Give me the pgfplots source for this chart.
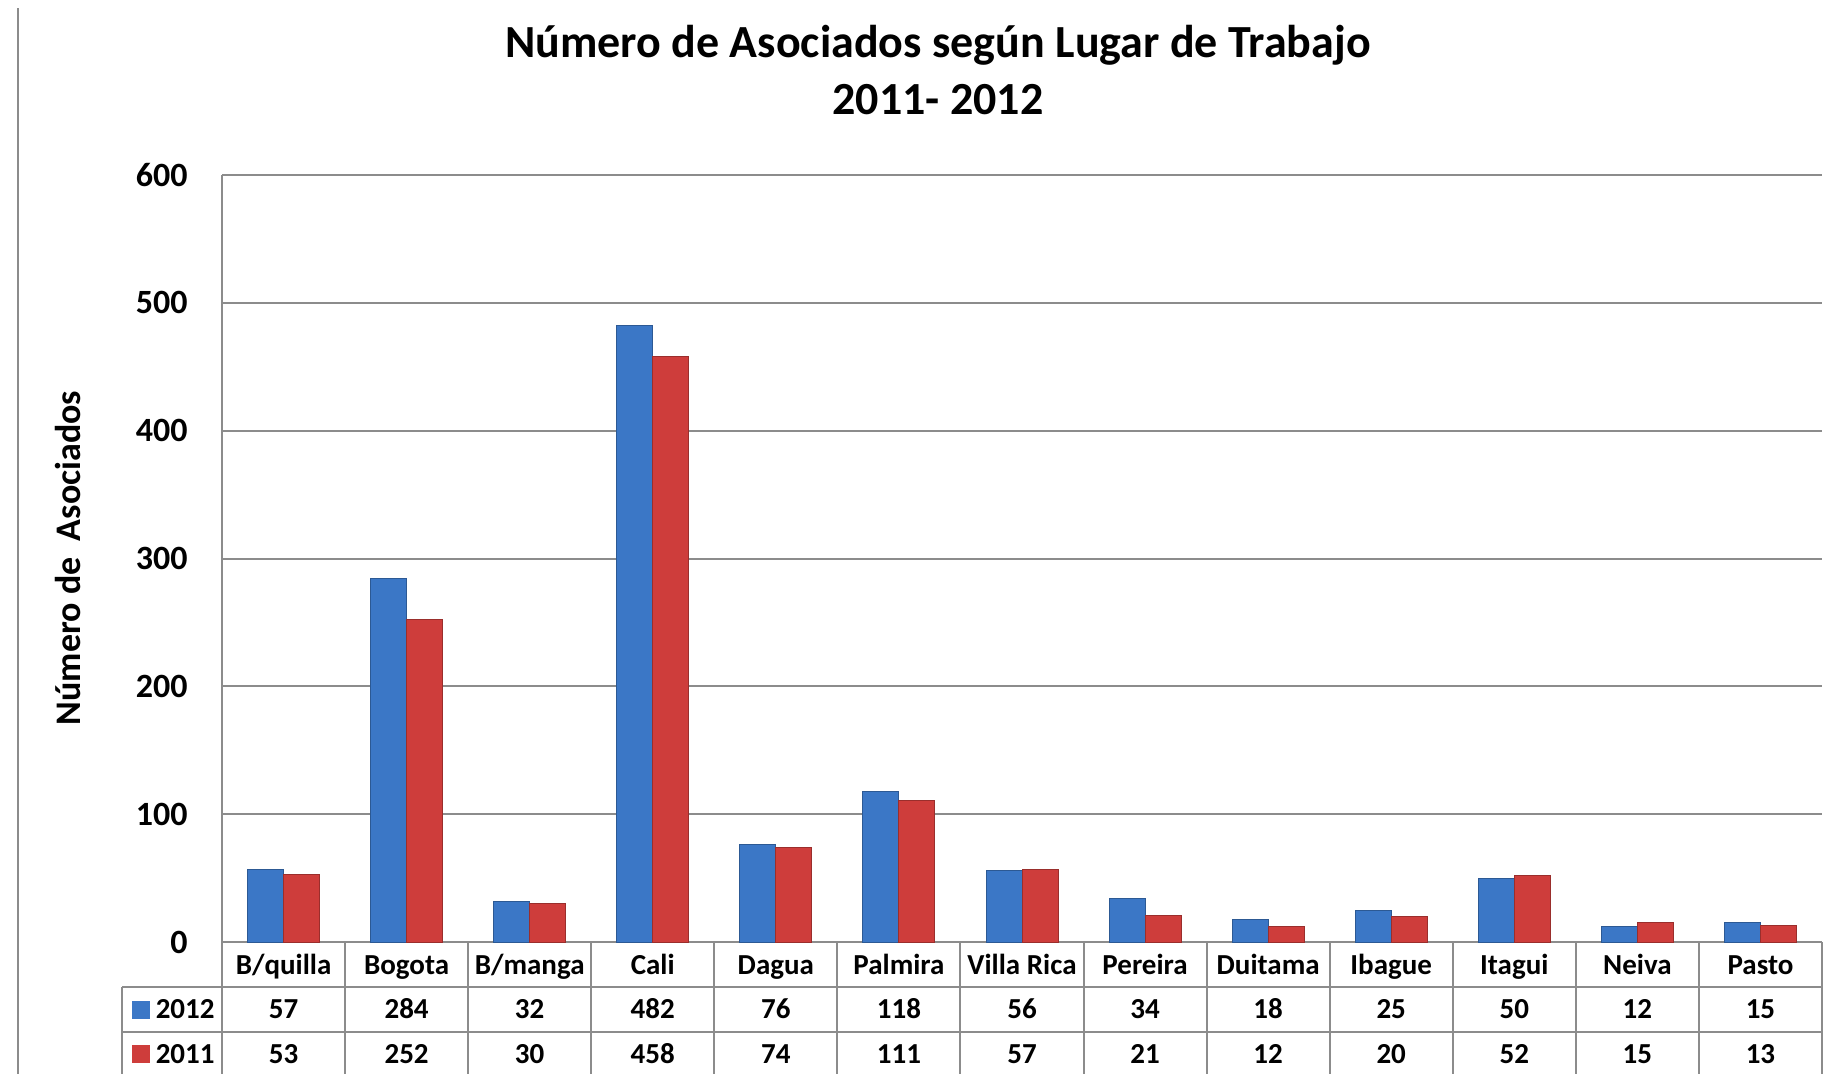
\documentclass[border=0pt]{standalone}
\usepackage{pgfplots}
\usepackage{pgfplotstable}
\usepackage{fontspec}
\setmainfont{Carlito}
\pgfplotsset{compat=1.18}

\definecolor{blue12}{HTML}{3B77C6}
\definecolor{red11}{HTML}{CE3D3B}
\definecolor{rule}{HTML}{8C8C8C}

\newcommand\titlef{\fontsize{23}{27}\selectfont\bfseries}
\newcommand\tickf{\fontsize{17}{20}\selectfont\bfseries}
\newcommand\tabf{\fontsize{14.5}{17}\selectfont\bfseries}

\tikzset{tbl/.style={rule, line width=1pt}}
\pgfplotsset{txt/.style={draw=none, mark=none, nodes near coords, point meta=explicit symbolic,
    nodes near coords style={font=\tabf, anchor=base, inner sep=0pt}}}

% members by workplace: 2012 (a) and 2011 (b)
\pgfplotstableread[col sep=comma]{
x,cat,a,b
0,B/quilla,57,53
1,Bogota,284,252
2,B/manga,32,30
3,Cali,482,458
4,Dagua,76,74
5,Palmira,118,111
6,Villa Rica,56,57
7,Pereira,34,21
8,Duitama,18,12
9,Ibague,25,20
10,Itagui,50,52
11,Neiva,12,15
12,Pasto,15,13
}\data

\begin{document}
\begin{tikzpicture}
\draw[tbl] (9pt,-4pt) -- (9pt,-540pt);
\node[font=\titlef] at (469pt,-22.7pt) {Número de Asociados según Lugar de Trabajo};
\node[font=\titlef] at (469pt,-49.7pt) {2011- 2012};
\node[font=\fontsize{18}{21}\selectfont\bfseries, rotate=90] at (34pt,-279pt) {Número de\ \ Asociados};

\begin{axis}[
    at={(111pt,-471pt)}, anchor=south west,
    width=800pt, height=383.5pt, scale only axis,
    xmin=-0.5, xmax=12.5, ymin=0, ymax=600,
    clip=false,
    axis x line*=bottom, axis y line*=left,
    axis line style={rule, line width=1pt},
    xtick=\empty,
    ytick={0,100,...,600},
    ytick style={draw=none},
    ymajorgrids,
    grid style={rule, line width=1pt},
    /pgf/number format/assume math mode=true,
    yticklabel style={font=\tickf, inner sep=0pt, xshift=-17pt},
]
\addplot[ybar, bar width=18pt, bar shift=-9pt, fill=blue12,
    draw=blue12!75!black, line width=0.5pt] table[x=x, y=a] {\data};
\addplot[ybar, bar width=18pt, bar shift=9pt, fill=red11,
    draw=red11!75!black, line width=0.5pt] table[x=x, y=b] {\data};

% data table under the plot
\addplot[txt] table[x=x, y expr=-25.3, meta=cat] {\data};
\addplot[txt] table[x=x, y expr=-60.1, meta=a] {\data};
\addplot[txt] table[x=x, y expr=-94.9, meta=b] {\data};

\draw[tbl] (axis cs:-1.3125,-35.2) -- (axis cs:12.5,-35.2);
\draw[tbl] (axis cs:-1.3125,-70.4) -- (axis cs:12.5,-70.4);
\draw[tbl] (axis cs:-1.3125,-35.2) -- (axis cs:-1.3125,-110);
\pgfplotsinvokeforeach{-0.5,0.5,...,12.5}{
    \draw[tbl] (axis cs:#1,0) -- (axis cs:#1,-110);
}
\node[minimum size=9pt, inner sep=0pt, fill=blue12] at (axis cs:-1.158,-52.8) {};
\node[minimum size=9pt, inner sep=0pt, fill=red11] at (axis cs:-1.158,-87.6) {};
\node[font=\tabf, anchor=base east, inner sep=0pt] at (axis cs:-0.557,-60.1) {2012};
\node[font=\tabf, anchor=base east, inner sep=0pt] at (axis cs:-0.557,-94.9) {2011};
\end{axis}

\pgfresetboundingbox
\useasboundingbox (0,0) rectangle (915.5pt,-536.5pt);
\end{tikzpicture}
\end{document}
